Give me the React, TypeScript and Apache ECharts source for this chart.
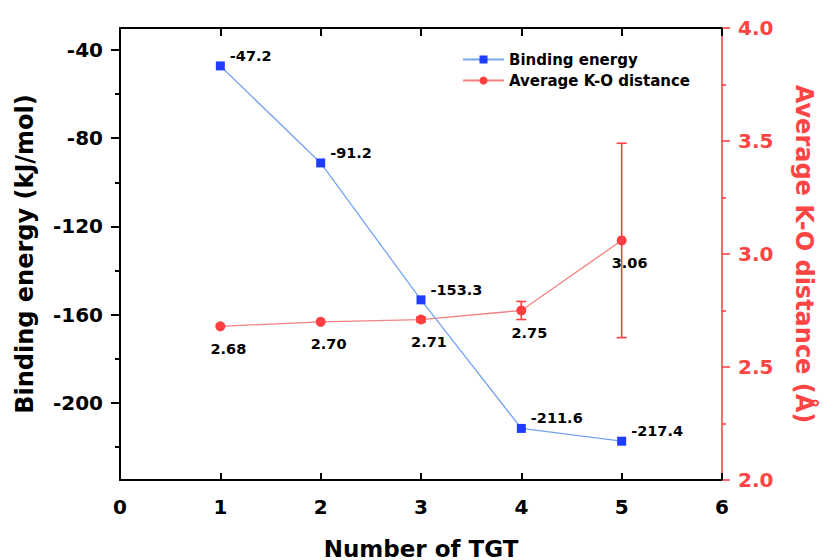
import React, { useEffect, useRef } from "react";
import * as echarts from "echarts";

const tgtCounts = [1, 2, 3, 4, 5];
const bindingEnergy = [-47.2, -91.2, -153.3, -211.6, -217.4];
const koDistance = [2.68, 2.7, 2.71, 2.75, 3.06];
const koError = [0, 0, 0.01, 0.04, 0.43];
const leftMajorTicks = [-200, -160, -120, -80, -40];
const leftMinorTicks = [-220, -180, -140, -100, -60];

const FONT = "DejaVu Sans";
const RED = "#ff4444";

export default function App() {
  const ref = useRef<HTMLDivElement>(null);
  useEffect(() => {
    if (!ref.current) return;
    const chart = echarts.init(ref.current, undefined, { renderer: "svg" });
    const beData = tgtCounts.map((x, i) => [x, bindingEnergy[i]]);
    const koData = tgtCounts.map((x, i) => [x, koDistance[i]]);
    const errData = tgtCounts
      .map((x, i) => [x, koDistance[i] - koError[i], koDistance[i] + koError[i]])
      .filter((d, i) => koError[i] > 0);

    const tickLabel = { fontFamily: FONT, fontWeight: "bold" as const, fontSize: 20, color: "#000" };

    chart.setOption({
      animation: false,
      backgroundColor: "#fff",
      textStyle: { fontFamily: FONT },
      grid: { left: 120, right: 101, top: 28, bottom: 80, outerBoundsMode: "none", containLabel: false },
      legend: {
        data: ["Binding energy", "Average K-O distance"],
        orient: "vertical",
        left: 462,
        top: 52,
        padding: 0,
        itemWidth: 41,
        itemHeight: 10,
        itemGap: 6,
        textStyle: { fontFamily: FONT, fontWeight: "bold", fontSize: 15, color: "#000" },
      },
      xAxis: [
        {
          type: "value",
          position: "bottom",
          min: 0,
          max: 6,
          interval: 1,
          name: "Number of TGT",
          nameLocation: "middle",
          nameGap: 57,
          nameTextStyle: { fontFamily: FONT, fontWeight: "bold", fontSize: 23, color: "#000" },
          axisLine: { onZero: false, lineStyle: { color: "#000", width: 2 } },
          axisTick: { inside: true, length: 7, lineStyle: { color: "#000", width: 2 } },
          axisLabel: { ...tickLabel, margin: 17 },
          splitLine: { show: false },
        },
        {
          type: "value",
          position: "top",
          min: 0,
          max: 6,
          interval: 1,
          axisLine: { onZero: false, lineStyle: { color: "#000", width: 2 } },
          axisTick: { inside: true, length: 8, lineStyle: { color: "#000", width: 2 } },
          axisLabel: { show: false },
          splitLine: { show: false },
        },
      ],
      yAxis: [
        {
          type: "value",
          position: "left",
          min: -235,
          max: -30,
          name: "Binding energy (kJ/mol)",
          nameLocation: "middle",
          nameRotate: 90,
          nameGap: 83,
          nameTextStyle: { fontFamily: FONT, fontWeight: "bold", fontSize: 24, color: "#000" },
          axisLine: { show: true, onZero: false, lineStyle: { color: "#000", width: 2 } },
          axisTick: { show: true, length: 9, customValues: leftMajorTicks, lineStyle: { color: "#000", width: 2 } },
          axisLabel: { ...tickLabel, margin: 17, customValues: leftMajorTicks },
          splitLine: { show: false },
        },
        {
          type: "value",
          position: "right",
          min: 2,
          max: 4,
          interval: 0.5,
          name: "Average K-O distance (Å)",
          nameLocation: "middle",
          nameRotate: -90,
          nameGap: 70,
          nameTextStyle: { fontFamily: FONT, fontWeight: "bold", fontSize: 24, color: RED },
          axisLine: { show: true, onZero: false, lineStyle: { color: RED, width: 1.6 } },
          axisTick: { show: true, length: 8, lineStyle: { color: RED, width: 1.6 } },
          minorTick: { show: true, splitNumber: 2, length: 4, lineStyle: { color: RED, width: 1.6 } },
          axisLabel: { ...tickLabel, color: RED, margin: 16, formatter: (v: number) => v.toFixed(1) },
          splitLine: { show: false },
        },
        {
          type: "value",
          position: "left",
          min: -235,
          max: -30,
          axisLine: { show: false },
          axisTick: { show: true, length: 5, customValues: leftMinorTicks, lineStyle: { color: "#000", width: 2 } },
          axisLabel: { show: false, customValues: leftMinorTicks },
          splitLine: { show: false },
        },
      ],
      series: [
        {
          name: "Binding energy",
          type: "line",
          xAxisIndex: 0,
          yAxisIndex: 0,
          data: beData,
          symbol: "rect",
          symbolSize: 9,
          lineStyle: { color: "#76a3f2", width: 1.3 },
          itemStyle: { color: "#1f3cff" },
          label: {
            show: true,
            position: "right",
            offset: [0, -10],
            fontFamily: FONT,
            fontWeight: "bold",
            fontSize: 14.5,
            color: "#000",
            formatter: (p: any) => p.value[1].toFixed(1),
          },
          z: 3,
        },
        {
          name: "Average K-O distance",
          type: "line",
          xAxisIndex: 0,
          yAxisIndex: 1,
          data: koData,
          symbol: "circle",
          symbolSize: 10,
          lineStyle: { color: "#f58282", width: 1.3 },
          itemStyle: { color: "#ff3f3f" },
          label: {
            show: true,
            position: "bottom",
            offset: [8, 5],
            fontFamily: FONT,
            fontWeight: "bold",
            fontSize: 14.5,
            color: "#000",
            formatter: (p: any) => p.value[1].toFixed(2),
          },
          z: 2,
        },
        {
          name: "K-O error",
          type: "custom",
          xAxisIndex: 0,
          yAxisIndex: 1,
          data: errData,
          renderItem: (params: any, api: any) => {
            const x = api.value(0);
            const lo = api.coord([x, api.value(1)]);
            const hi = api.coord([x, api.value(2)]);
            const w = 5;
            const style = { stroke: "#ff3f3f", lineWidth: 1.6 };
            return {
              type: "group",
              children: [
                { type: "line", shape: { x1: lo[0], y1: lo[1], x2: hi[0], y2: hi[1] }, style },
                { type: "line", shape: { x1: lo[0] - w, y1: lo[1], x2: lo[0] + w, y2: lo[1] }, style },
                { type: "line", shape: { x1: hi[0] - w, y1: hi[1], x2: hi[0] + w, y2: hi[1] }, style },
              ],
            };
          },
          z: 1,
        },
      ],
    });
    return () => chart.dispose();
  }, []);
  return <div ref={ref} style={{ position: "absolute", left: 0, top: 0, width: 823, height: 560 }} />;
}
